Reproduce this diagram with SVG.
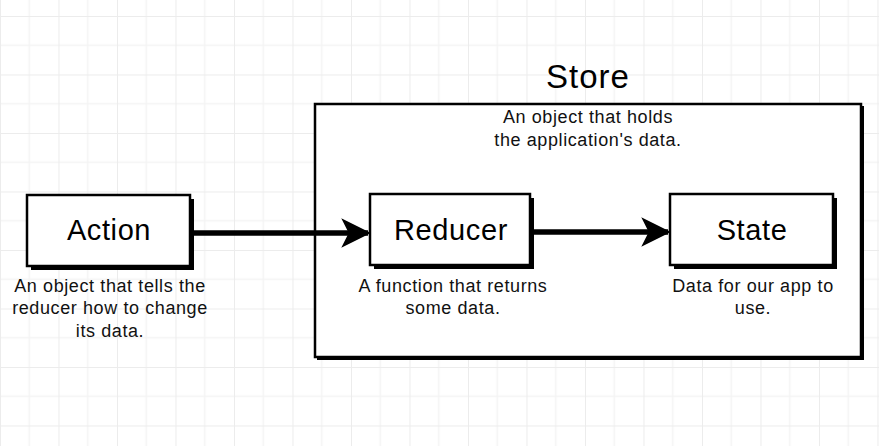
<svg xmlns="http://www.w3.org/2000/svg" width="879" height="446" viewBox="0 0 879 446">
<defs>
<pattern id="grid" x="0" y="16" width="58.5" height="58.5" patternUnits="userSpaceOnUse">
<path d="M29.25 0V58.5M0 29.25H58.5" stroke="#f4f4f4" stroke-width="1.5" fill="none"/>
<path d="M0 0V58.5M0 0H58.5" stroke="#ececec" stroke-width="2" fill="none"/>
</pattern>
<marker id="arrow" viewBox="0 0 10 10" refX="9" refY="5" markerWidth="5.4" markerHeight="5.4" orient="auto" markerUnits="strokeWidth">
<path d="M0 0L10 5L0 10L2.5 5Z" fill="#000"/>
</marker>
</defs>
<style>
.box{fill:#fff;stroke:#000;stroke-width:2.5}
.shadow{fill:#000}
.label{font-family:"Liberation Sans",Arial,sans-serif;font-size:29px;fill:#000;text-anchor:middle;letter-spacing:0.6px}
.desc{font-family:"Liberation Sans",Arial,sans-serif;font-size:18px;fill:#111;text-anchor:middle;letter-spacing:0.6px}
.title{font-family:"Liberation Sans",Arial,sans-serif;font-size:33px;fill:#000;text-anchor:middle;letter-spacing:1px}
.conn{stroke:#000;stroke-width:5.5;fill:none}
</style>
<rect width="879" height="446" fill="#fff"/>
<rect width="879" height="446" fill="url(#grid)"/>

<g id="store">
<rect x="317" y="106" width="547" height="254" class="shadow"/>
<rect x="315" y="104" width="546" height="253" class="box"/>
<text x="588" y="88" class="title">Store</text>
<text x="588" y="123" class="desc">An object that holds</text>
<text x="588" y="146" class="desc">the application's data.</text>
</g>

<g id="action">
<rect x="31" y="199" width="163" height="71" class="shadow"/>
<rect x="27" y="195" width="163" height="71" class="box"/>
<text x="109" y="240" class="label">Action</text>
<text x="110" y="292" class="desc">An object that tells the</text>
<text x="110" y="314" class="desc">reducer how to change</text>
<text x="110" y="337" class="desc">its data.</text>
</g>

<g id="reducer">
<rect x="374" y="198" width="160" height="71" class="shadow"/>
<rect x="370" y="194" width="160" height="71" class="box"/>
<text x="451" y="240" class="label">Reducer</text>
<text x="453" y="292" class="desc">A function that returns</text>
<text x="453" y="314" class="desc">some data.</text>
</g>

<g id="state">
<rect x="674" y="198" width="163" height="71" class="shadow"/>
<rect x="670" y="194" width="163" height="71" class="box"/>
<text x="752" y="240" class="label">State</text>
<text x="753" y="292" class="desc">Data for our app to</text>
<text x="753" y="314" class="desc">use.</text>
</g>

<g id="connectors">
<line x1="192" y1="233" x2="368" y2="233" class="conn" marker-end="url(#arrow)"/>
<line x1="534" y1="232" x2="668" y2="232" class="conn" marker-end="url(#arrow)"/>
</g>
</svg>
